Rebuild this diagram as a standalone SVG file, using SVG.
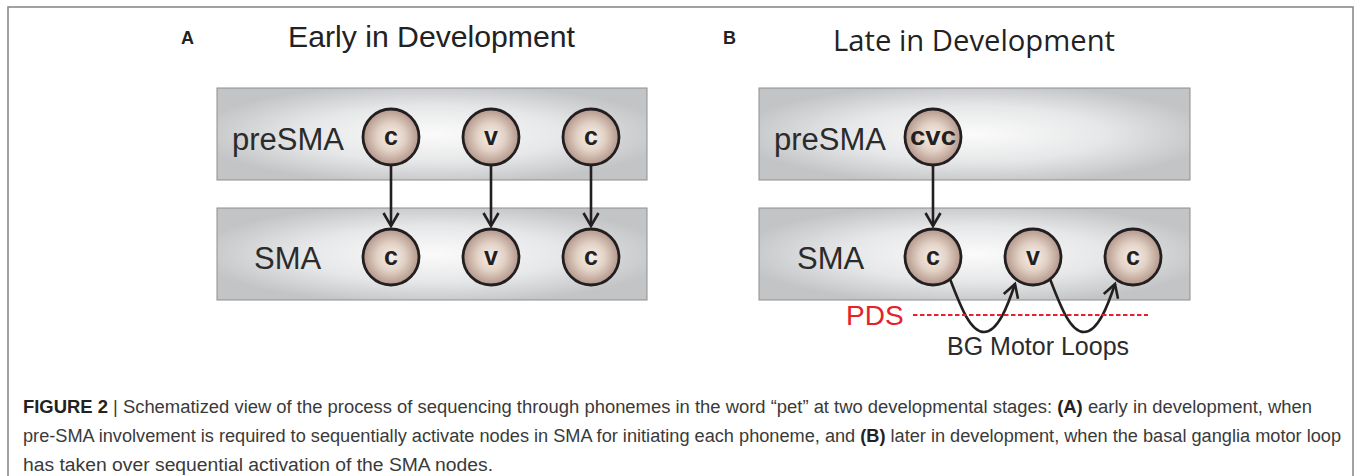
<svg xmlns="http://www.w3.org/2000/svg" width="1356" height="476" viewBox="0 0 1356 476">
  <defs>
    <radialGradient id="bandFill" cx="0.5" cy="0.5" r="0.55">
      <stop offset="0" stop-color="#fbfbfb"/>
      <stop offset="0.55" stop-color="#e6e7e8"/>
      <stop offset="1" stop-color="#c3c4c6"/>
    </radialGradient>
    <radialGradient id="nodeFill" cx="0.5" cy="0.5" r="0.5">
      <stop offset="0" stop-color="#f7f1ec"/>
      <stop offset="0.5" stop-color="#e2d1c5"/>
      <stop offset="1" stop-color="#b3968a"/>
    </radialGradient>
    <marker id="chevron" markerUnits="userSpaceOnUse" markerWidth="20" markerHeight="20" refX="0" refY="0" viewBox="-16 -10 20 20" orient="auto" overflow="visible">
      <path d="M-13,-7.5 L0,0 L-13,7.5" fill="none" stroke="#231f20" stroke-width="2.6" stroke-linejoin="miter"/>
    </marker>
  </defs>
  <style>
    .band { fill: url(#bandFill); stroke: #8d8e90; stroke-width: 1; }
    .node { fill: url(#nodeFill); stroke: #231f20; stroke-width: 2.8; }
    .nlabel { font-family: "Liberation Sans", Arial, sans-serif; font-weight: bold; font-size: 25px; fill: #231f20; text-anchor: middle; }
    .area { font-family: "Liberation Sans", Arial, sans-serif; font-size: 31px; fill: #2b2b2b; }
    .link { fill: none; stroke: #231f20; stroke-width: 2.6; marker-end: url(#chevron); }
    .panel { font-family: "Liberation Sans", Arial, sans-serif; font-weight: bold; font-size: 18px; fill: #222; }
    .title { font-size: 30px; fill: #222; }
    .cap { font-family: "Liberation Sans", Arial, sans-serif; font-size: 18px; fill: #3a3a3a; }
    .capb { font-weight: bold; fill: #222; }
  </style>

  <!-- outer frame -->
  <rect x="8" y="7" width="1345" height="480" fill="#ffffff" stroke="#8a8a8a" stroke-width="1.6"/>

  <!-- panel headings -->
  <text class="panel" x="181" y="44">A</text>
  <text class="title" x="288" y="47" font-family="Liberation Sans, Arial, sans-serif" textLength="287" lengthAdjust="spacingAndGlyphs">Early in Development</text>
  <text class="panel" x="723" y="44">B</text>
  <text class="title" x="833" y="51" font-family="Open Sans, Noto Sans, sans-serif" textLength="282" lengthAdjust="spacingAndGlyphs">Late in Development</text>

  <!-- cortical areas -->
  <g id="bandA-preSMA">
    <rect class="band" x="217" y="88" width="430" height="92"/>
    <text class="area" x="232" y="150">preSMA</text>
  </g>
  <g id="bandA-SMA">
    <rect class="band" x="217" y="208" width="430" height="92"/>
    <text class="area" x="254" y="269">SMA</text>
  </g>
  <g id="bandB-preSMA">
    <rect class="band" x="759" y="88" width="431" height="92"/>
    <text class="area" x="774" y="150">preSMA</text>
  </g>
  <g id="bandB-SMA">
    <rect class="band" x="759" y="208" width="431" height="92"/>
    <text class="area" x="797" y="269">SMA</text>
  </g>

  <!-- connectors -->
  <g id="connectors">
    <line class="link" x1="391" y1="166" x2="391" y2="226"/>
    <line class="link" x1="491" y1="166" x2="491" y2="226"/>
    <line class="link" x1="591" y1="166" x2="591" y2="226"/>
    <line class="link" x1="933" y1="166" x2="933" y2="226"/>
    <path class="link" d="M950,279 C960,305 970,332 984,332 C998,332 1008,305 1015,284"/>
    <path class="link" d="M1050,279 C1060,305 1070,332 1084,332 C1098,332 1108,305 1115,284"/>
  </g>

  <!-- panel A nodes -->
  <g id="A-pre-c1"><circle class="node" cx="391" cy="137" r="28"/><text class="nlabel" x="391" y="145">c</text></g>
  <g id="A-pre-v"><circle class="node" cx="491" cy="137" r="28"/><text class="nlabel" x="491" y="145">v</text></g>
  <g id="A-pre-c2"><circle class="node" cx="591" cy="137" r="28"/><text class="nlabel" x="591" y="145">c</text></g>
  <g id="A-sma-c1"><circle class="node" cx="391" cy="257" r="28"/><text class="nlabel" x="391" y="265">c</text></g>
  <g id="A-sma-v"><circle class="node" cx="491" cy="257" r="28"/><text class="nlabel" x="491" y="265">v</text></g>
  <g id="A-sma-c2"><circle class="node" cx="591" cy="257" r="28"/><text class="nlabel" x="591" y="265">c</text></g>

  <!-- panel B nodes -->
  <g id="B-pre-cvc"><circle class="node" cx="933" cy="137" r="28"/><text class="nlabel" x="933" y="145" font-size="27" textLength="46" lengthAdjust="spacingAndGlyphs">cvc</text></g>
  <g id="B-sma-c1"><circle class="node" cx="933" cy="257" r="28"/><text class="nlabel" x="933" y="265">c</text></g>
  <g id="B-sma-v"><circle class="node" cx="1033" cy="257" r="28"/><text class="nlabel" x="1033" y="265">v</text></g>
  <g id="B-sma-c2"><circle class="node" cx="1133" cy="257" r="28"/><text class="nlabel" x="1133" y="265">c</text></g>

  <!-- PDS threshold -->
  <g id="pds">
    <text x="846" y="325" font-family="Liberation Sans, Arial, sans-serif" font-size="28" fill="#e42229">PDS</text>
    <line x1="913" y1="315" x2="1148" y2="315" stroke="#e42229" stroke-width="2" stroke-dasharray="4.5 2.5"/>
  </g>
  <g id="bg-label">
    <text x="947" y="355" font-family="Liberation Sans, Arial, sans-serif" font-size="25" fill="#2b2b2b">BG Motor Loops</text>
  </g>

  <!-- caption -->
  <g id="caption">
    <text class="cap" x="23" y="413" textLength="1289" lengthAdjust="spacingAndGlyphs"><tspan class="capb">FIGURE 2</tspan> | Schematized view of the process of sequencing through phonemes in the word “pet” at two developmental stages: <tspan class="capb">(A)</tspan> early in development, when</text>
    <text class="cap" x="23" y="442" textLength="1318" lengthAdjust="spacingAndGlyphs">pre-SMA involvement is required to sequentially activate nodes in SMA for initiating each phoneme, and <tspan class="capb">(B)</tspan> later in development, when the basal ganglia motor loop</text>
    <text class="cap" x="23" y="471" textLength="470" lengthAdjust="spacingAndGlyphs">has taken over sequential activation of the SMA nodes.</text>
  </g>
</svg>
